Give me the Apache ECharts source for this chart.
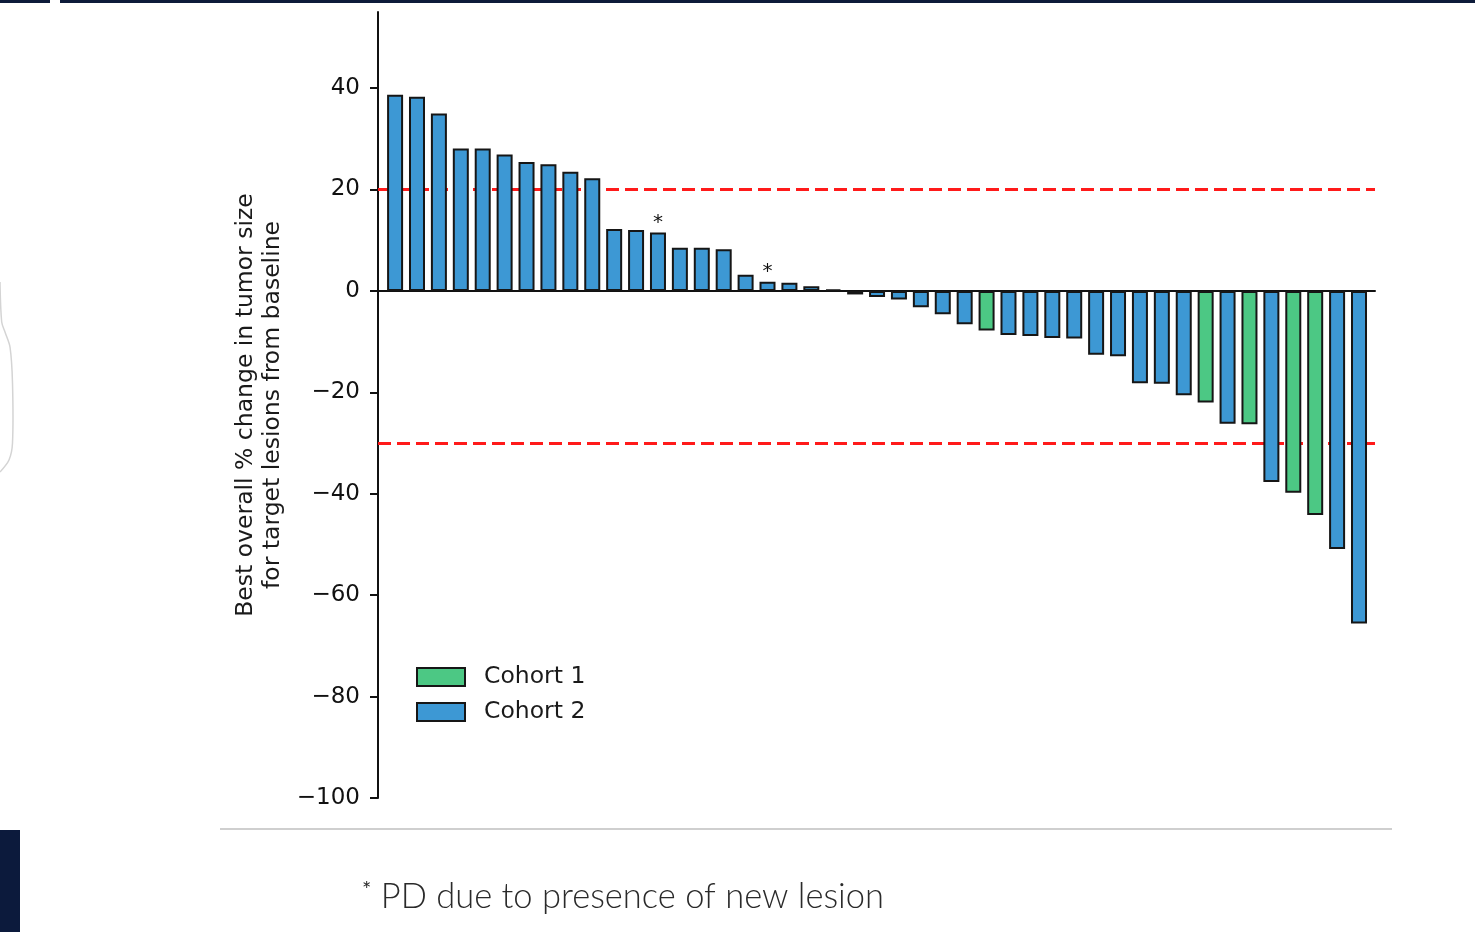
<!DOCTYPE html>
<html>
<head>
<meta charset="utf-8">
<script src="https://cdn.jsdelivr.net/npm/echarts@6/dist/echarts.min.js"></script>
<style>
  html, body { margin: 0; padding: 0; background: #fff; }
  #main { width: 1475px; height: 932px; }
</style>
</head>
<body>
<div id="main"></div>
<script>
// best % change per patient, sorted
var changes = [38.7, 38.3, 35.0, 28.1, 28.1, 26.9, 25.4, 25.0, 23.5, 22.2,
    12.2, 12.0, 11.5, 8.5, 8.5, 8.2, 3.2, 1.8, 1.6, 0.9,
    0.3, -0.7, -1.2, -1.7, -3.2, -4.6, -6.6, -7.8, -8.7, -8.9,
    -9.3, -9.4, -12.6, -12.9, -18.2, -18.3, -20.6, -22.0, -26.2, -26.3,
    -37.7, -39.8, -44.2, -50.9, -65.6];
// cohort of each bar
var cohorts = [2, 2, 2, 2, 2, 2, 2, 2, 2, 2,
    2, 2, 2, 2, 2, 2, 2, 2, 2, 2,
    2, 2, 2, 2, 2, 2, 2, 1, 2, 2,
    2, 2, 2, 2, 2, 2, 2, 1, 2, 1,
    2, 1, 1, 2, 2];
var newLesion = [12, 17];          // bars flagged with *
var thresholds = [20, -30];        // red dashed reference lines
var yTicks = [-100, -80, -60, -40, -20, 0, 20, 40];
var cohortNames = ['Cohort 1', 'Cohort 2'];
var cohortColors = ['#4cc884', '#3d98d4'];

var myChart = echarts.init(document.getElementById('main'));

function cohortData(c) {
    var out = [];
    for (var i = 0; i < changes.length; i++) {
        if (cohorts[i] !== c) continue;
        var item = { value: [i, changes[i]] };
        if (newLesion.indexOf(i) >= 0) {
            item.label = { show: true, position: 'top', formatter: '*', distance: 0,
                fontSize: 20, color: '#111', fontFamily: 'DejaVu Sans' };
        }
        out.push(item);
    }
    return out;
}

var series = [];
for (var c = 1; c <= 2; c++) {
    var s = {
        name: cohortNames[c - 1],
        type: 'bar',
        barWidth: 16,
        barGap: '-100%',
        data: cohortData(c),
        itemStyle: {
            color: cohortColors[c - 1],
            borderColor: '#161616',
            borderWidth: 2
        },
        emphasis: { disabled: true }
    };
    if (c === 2) {
        s.markLine = {
            silent: true,
            symbol: 'none',
            z: 1,
            label: { show: false },
            lineStyle: { color: '#ff1a1a', width: 3, type: [13, 6] },
            data: thresholds.map(function (t) { return { yAxis: t }; })
        };
    }
    series.push(s);
}

option = {
    backgroundColor: '#fff',
    animation: false,
    grid: {
        left: 378,
        right: 100,
        top: 12,
        bottom: 134
    },
    legend: {
        orient: 'vertical',
        left: 411,
        top: 660,
        itemWidth: 48,
        itemHeight: 18,
        itemGap: 11,
        icon: 'rect',
        textStyle: {
            fontSize: 23.5,
            color: '#1a1a1a',
            fontFamily: 'DejaVu Sans',
            padding: [0, 0, 0, 14]
        },
        data: cohortNames
    },
    xAxis: {
        type: 'value',
        min: -0.78,
        max: 44.73,
        axisLine: { show: true, onZero: true, lineStyle: { color: '#111', width: 2 } },
        axisTick: { show: false },
        axisLabel: { show: false },
        splitLine: { show: false }
    },
    yAxis: {
        type: 'value',
        min: -100,
        max: 55,
        name: 'Best overall % change in tumor size\nfor target lesions from baseline',
        nameLocation: 'middle',
        nameGap: 92,
        nameTextStyle: {
            fontSize: 23.5,
            color: '#1a1a1a',
            fontFamily: 'DejaVu Sans',
            lineHeight: 27
        },
        axisLine: { show: true, onZero: false, lineStyle: { color: '#111', width: 2 } },
        axisTick: { show: true, length: 8, customValues: yTicks, lineStyle: { color: '#111', width: 2 } },
        axisLabel: {
            customValues: yTicks,
            margin: 18,
            fontSize: 23,
            color: '#111',
            fontFamily: 'DejaVu Sans',
            formatter: function (v) { return String(v).replace('-', '\u2212'); }
        },
        splitLine: { show: false }
    },
    graphic: [
        { type: 'rect', shape: { x: 0, y: 0, width: 50, height: 3 }, style: { fill: '#0d1b3a' } },
        { type: 'rect', shape: { x: 60, y: 0, width: 1415, height: 3 }, style: { fill: '#0d1b3a' } },
        { type: 'rect', shape: { x: 0, y: 830, width: 20, height: 102 }, style: { fill: '#0c1a3c' } },
        {
            type: 'polyline',
            shape: { points: [[0, 282], [1.7, 322], [5, 332], [10, 347], [12.5, 383], [12.5, 443], [9, 460], [0, 472]], smooth: 0.3 },
            style: { stroke: '#d4d4d4', lineWidth: 1.5, fill: null }
        },
        { type: 'line', shape: { x1: 220, y1: 829, x2: 1392, y2: 829 }, style: { stroke: '#cfcfcf', lineWidth: 2 } },
        {
            type: 'text',
            left: 362,
            top: 879,
            style: {
                text: '{s|*} PD due to presence of new lesion',
                fill: '#2a2a2a',
                font: '300 34.5px Lato',
                rich: {
                    s: { fontSize: 22, fontFamily: 'Lato', fill: '#2a2a2a', verticalAlign: 'top', padding: [0, 0, 12, 0] }
                }
            }
        }
    ],
    series: series
};
myChart.setOption(option);
</script>
</body>
</html>
